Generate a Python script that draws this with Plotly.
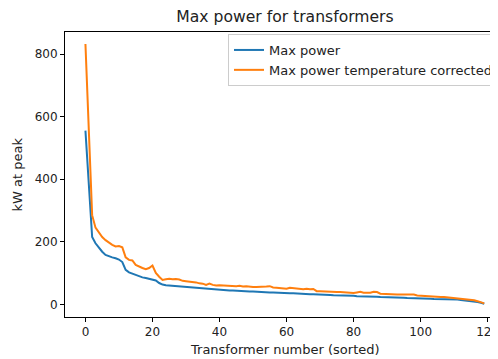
"""
Max power for transformers: raw peak vs temperature-corrected peak, sorted.
"""

import plotly.graph_objects as go

# region Data
transformer_idx = list(range(120))

max_power = [
    555, 385, 215, 195, 180, 168, 158, 153, 150, 147,
    143, 135, 110, 102, 98, 94, 89, 86, 84, 82,
    80, 76, 68, 63, 61, 60, 59, 58, 57, 56,
    55, 54, 53, 52, 51, 50, 49, 48, 47, 46,
    46, 45, 45, 44, 44, 43, 43, 42, 42, 41,
    41, 40, 40, 39, 39, 38, 38, 37, 37, 36,
    36, 35, 35, 34, 34, 33, 33, 32, 32, 32,
    31, 31, 30, 30, 29, 29, 28, 28, 28, 27,
    27, 26, 26, 26, 25, 25, 24, 24, 23, 23,
    22, 22, 22, 21, 21, 21, 20, 20, 20, 19,
    19, 18, 18, 18, 17, 17, 17, 16, 16, 16,
    15, 15, 14, 13, 12, 11, 9, 7, 5, 2,
]

max_power_temp_corrected = [
    832, 560, 285, 245, 228, 215, 205, 196, 190, 185,
    186, 182, 150, 142, 140, 126, 120, 116, 112, 116,
    124, 100, 88, 78, 80, 82, 80, 81, 79, 75,
    74, 73, 70, 70, 67, 66, 62, 66, 62, 60,
    61, 60, 60, 59, 59, 58, 59, 57, 58, 56,
    55, 55, 55, 56, 57, 58, 54, 53, 52, 51,
    50, 53, 52, 50, 49, 48, 50, 48, 49, 42,
    42, 41, 41, 40, 40, 39, 39, 38, 37, 37,
    36, 38, 40, 37, 36, 37, 40, 39, 34, 33,
    33, 32, 32, 31, 31, 31, 30, 32, 31, 28,
    27, 27, 26, 25, 25, 24, 23, 23, 22, 21,
    21, 20, 19, 16, 15, 14, 13, 10, 6, 3,
]

x_ticks = [0, 20, 40, 60, 80, 100, 120]
y_ticks = [0, 200, 400, 600, 800]
# endregion

# region Figure
# page has an 8px body margin, so the figure is laid out in page coords minus OFF
OFF = 8
PAGE_W, PAGE_H = 498, 359
W, H = PAGE_W - OFF, PAGE_H - OFF
L = 65 - OFF          # left spine at page x=65
T = 32 - OFF          # top spine at page y=32
B = PAGE_H - 317      # bottom spine at page y=317
FONT = "DejaVu Sans"
TXT = "#222222"
LABEL_SIZE = 13
TICK_SIZE = 12

fig = go.Figure()
fig.add_trace(go.Scatter(
    x=transformer_idx, y=max_power, name="Max power",
    mode="lines", line=dict(color="#1f77b4", width=2),
))
fig.add_trace(go.Scatter(
    x=transformer_idx, y=max_power_temp_corrected,
    name="Max power temperature corrected",
    mode="lines", line=dict(color="#ff7f0e", width=2),
))

axis_common = dict(
    showgrid=False, zeroline=False,
    showline=True, linecolor="#000000", linewidth=1,
    ticks="outside", ticklen=4, tickcolor="#000000", tickwidth=1,
    tickfont=dict(family=FONT, size=TICK_SIZE, color=TXT),
    ticklabeloverflow="allow",
)

plot_w = W - L
plot_h = H - T - B

fig.update_layout(
    width=W, height=H,
    margin=dict(l=L, r=0, t=T, b=B, autoexpand=False),
    paper_bgcolor="white", plot_bgcolor="white",
    font=dict(family=FONT, color=TXT),
    title=dict(
        text="Max power for transformers",
        font=dict(family=FONT, size=15.6, color=TXT),
        xref="container", x=(285 - OFF) / W, xanchor="center",
        yref="container", y=1 - (17 - OFF) / H, yanchor="middle",
    ),
    xaxis=dict(
        **axis_common, mirror=True,
        range=[-6.1, 123.1], tickvals=x_ticks,
    ),
    yaxis=dict(
        **axis_common, mirror=False,
        range=[-40.6, 870.4], tickvals=y_ticks,
    ),
    showlegend=True,
    legend=dict(
        x=(228 - 65) / plot_w, xanchor="left",
        y=1 - (34 - 32) / plot_h, yanchor="top",
        bgcolor="rgba(255,255,255,0.8)",
        bordercolor="#cccccc", borderwidth=1,
        font=dict(family=FONT, size=LABEL_SIZE, color=TXT),
        tracegroupgap=0,
    ),
)

fig.add_annotation(
    xref="paper", yref="paper",
    x=(285 - 65) / plot_w, y=-(349 - 317) / plot_h,
    text="Transformer number (sorted)", showarrow=False,
    font=dict(family=FONT, size=LABEL_SIZE, color=TXT),
    xanchor="center", yanchor="middle",
)
fig.add_annotation(
    xref="paper", yref="paper",
    x=-(65 - 17) / plot_w, y=0.5,
    text="kW at peak", showarrow=False, textangle=-90,
    font=dict(family=FONT, size=LABEL_SIZE, color=TXT),
    xanchor="center", yanchor="middle",
)
# endregion

fig.write_html("out.html")
